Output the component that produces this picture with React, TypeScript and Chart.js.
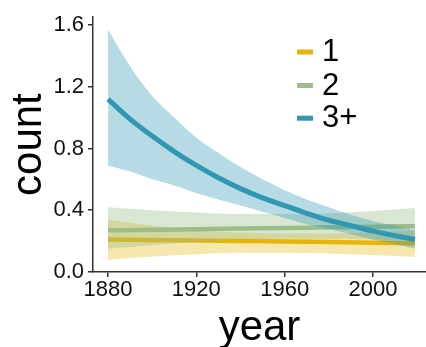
import React, { useEffect, useRef } from 'react';
import { Chart, registerables } from 'chart.js';

Chart.register(...registerables);

// ---- data ----
const yearsBlue = [1880, 1890, 1900, 1910, 1920, 1930, 1940, 1950, 1960, 1970, 1980, 1990, 2000, 2010, 2019];
const blueMean = [1.12, 0.99, 0.88, 0.78, 0.69, 0.61, 0.54, 0.48, 0.43, 0.38, 0.335, 0.3, 0.265, 0.235, 0.21];
const blueUpper = [1.57, 1.33, 1.14, 1.0, 0.87, 0.77, 0.68, 0.6, 0.53, 0.47, 0.42, 0.37, 0.33, 0.3, 0.27];
const blueLower = [0.69, 0.65, 0.6, 0.56, 0.51, 0.47, 0.43, 0.39, 0.35, 0.31, 0.28, 0.245, 0.21, 0.18, 0.15];

const yearsFlat = [1880, 1900, 1920, 1940, 1960, 1980, 2000, 2019];
const yellowMean = [0.21, 0.207, 0.204, 0.201, 0.198, 0.194, 0.19, 0.186];
const yellowUpper = [0.34, 0.3, 0.27, 0.255, 0.25, 0.25, 0.255, 0.27];
const yellowLower = [0.08, 0.1, 0.115, 0.125, 0.125, 0.12, 0.11, 0.097];
const greenMean = [0.27, 0.273, 0.277, 0.281, 0.285, 0.289, 0.293, 0.297];
const greenUpper = [0.42, 0.4, 0.385, 0.375, 0.375, 0.38, 0.395, 0.415];
const greenLower = [0.15, 0.175, 0.195, 0.21, 0.215, 0.215, 0.21, 0.2];

const seriesLabels = ['1', '2', '3+'];
const xTicks = [1880, 1920, 1960, 2000];
const yTicks = [0, 0.4, 0.8, 1.2, 1.6];

// ---- styles ----
const lineColors = ['#e5b50a', '#9cbd87', '#3198b4'];
const bandColors = ['rgba(229,181,10,0.33)', 'rgba(156,189,135,0.38)', 'rgba(49,152,180,0.35)'];
const FONT = '"Liberation Sans", Arial, Helvetica, sans-serif';

function pts(xs: number[], ys: number[]) {
  return xs.map((x, i) => ({ x, y: ys[i] }));
}

const legendPlugin = {
  id: 'insideLegend',
  afterDraw(chart: any) {
    const ctx = chart.ctx;
    const ys = [52.5, 86, 118.7];
    ctx.save();
    ctx.font = `31px ${FONT}`;
    ctx.textBaseline = 'middle';
    ctx.textAlign = 'left';
    seriesLabels.forEach((lab, i) => {
      ctx.fillStyle = lineColors[i];
      ctx.fillRect(297, ys[i] - 3, 16, 5);
      ctx.fillStyle = '#000';
      ctx.fillText(lab, 322, ys[i]);
    });
    ctx.restore();
  },
};

export default function App() {
  const ref = useRef<HTMLCanvasElement>(null);

  useEffect(() => {
    if (!ref.current) return;
    Chart.defaults.font.family = FONT;
    const groups = [
      { xs: yearsFlat, mean: yellowMean, up: yellowUpper, lo: yellowLower, w: 4.5 },
      { xs: yearsFlat, mean: greenMean, up: greenUpper, lo: greenLower, w: 4.5 },
      { xs: yearsBlue, mean: blueMean, up: blueUpper, lo: blueLower, w: 5 },
    ];
    const datasets: any[] = [];
    let order = 20;
    groups.forEach((g, i) => {
      datasets.push({
        label: seriesLabels[i] + ' upper',
        data: pts(g.xs, g.up),
        borderWidth: 0,
        borderColor: 'rgba(0,0,0,0)',
        backgroundColor: bandColors[i],
        pointRadius: 0,
        fill: '+1',
        cubicInterpolationMode: 'monotone',
        order: order--,
      });
      datasets.push({
        label: seriesLabels[i] + ' lower',
        data: pts(g.xs, g.lo),
        borderWidth: 0,
        borderColor: 'rgba(0,0,0,0)',
        pointRadius: 0,
        fill: false,
        cubicInterpolationMode: 'monotone',
        order: order--,
      });
      datasets.push({
        label: seriesLabels[i],
        data: pts(g.xs, g.mean),
        borderWidth: g.w,
        borderColor: lineColors[i],
        pointRadius: 0,
        fill: false,
        cubicInterpolationMode: 'monotone',
        order: order--,
      });
    });

    const chart = new Chart(ref.current, {
      type: 'line',
      data: { datasets },
      plugins: [legendPlugin],
      options: {
        responsive: false,
        animation: false,
        layout: { padding: { top: 11, right: 0, bottom: 0, left: 0 } },
        plugins: {
          legend: { display: false },
          tooltip: { enabled: false },
          filler: { propagate: false },
        },
        scales: {
          x: {
            type: 'linear',
            min: 1873.2,
            max: 2024,
            afterBuildTicks: (s: any) => {
              s.ticks = xTicks.map((v) => ({ value: v }));
            },
            afterFit: (s: any) => {
              s.height = 75;
            },
            ticks: {
              font: { size: 22 },
              color: '#111',
              padding: 0,
              maxRotation: 0,
              autoSkip: false,
              callback: (v: any) => String(v),
            },
            grid: { drawOnChartArea: false, drawTicks: true, tickLength: 5, color: '#333', lineWidth: 1.5 },
            border: { display: true, color: '#333', width: 1.5 },
            title: {
              display: true,
              text: 'year',
              font: { size: 42, lineHeight: 1 },
              color: '#000',
              padding: { top: 0, bottom: -2 },
            },
          },
          y: {
            type: 'linear',
            min: 0,
            max: 1.65,
            afterBuildTicks: (s: any) => {
              s.ticks = yTicks.map((v) => ({ value: v }));
            },
            afterFit: (s: any) => {
              s.width = 93;
            },
            ticks: {
              font: { size: 22 },
              color: '#111',
              padding: 4,
              callback: (v: any) => Number(v).toFixed(1),
            },
            grid: { drawOnChartArea: false, drawTicks: true, tickLength: 5, color: '#333', lineWidth: 1.5 },
            border: { display: true, color: '#333', width: 1.5 },
            title: {
              display: true,
              text: 'count',
              font: { size: 42, lineHeight: 1.2 },
              color: '#000',
              padding: { top: 4.5, bottom: 0 },
            },
          },
        },
      },
    } as any);
    return () => chart.destroy();
  }, []);

  return (
    <div style={{ position: 'fixed', left: 0, top: 0, width: 426, height: 347, background: '#fff' }}>
      <canvas ref={ref} width={426} height={347} style={{ width: 426, height: 347, display: 'block' }} />
    </div>
  );
}
